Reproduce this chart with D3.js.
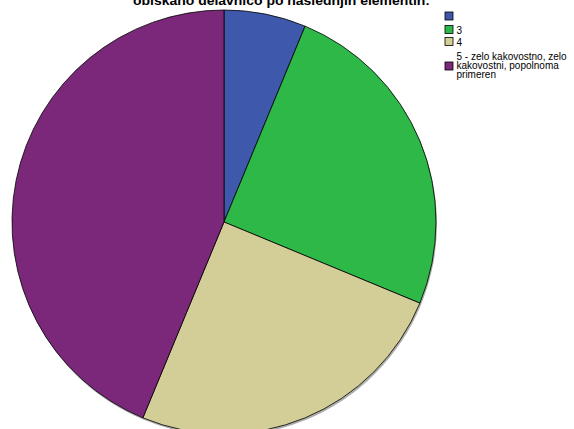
<!DOCTYPE html>
<html><head><meta charset="utf-8">
<script src="https://cdn.jsdelivr.net/npm/d3@7"></script>
<style>body{margin:0;background:#fff}svg{display:block}</style>
</head><body>
<script>
const categories = ["", "3", "4", "5 - zelo kakovostno, zelo kakovostni, popolnoma primeren"];
const legendLines = [[""], ["3"], ["4"], ["5 - zelo kakovostno, zelo", "kakovostni, popolnoma", "primeren"]];
const values = [1, 4, 4, 7];
const colors = ["#3E58AC", "#2EB848", "#D3CE97", "#7B287B"];
const title = "obiskano delavnico po naslednjih elementih:";

const W = 574, H = 429;
const svg = d3.select("body").append("svg").attr("width", W).attr("height", H);

const cx = 224, cy = 222, r = 212;
const pie = d3.pie().sort(null).value(d => d)(values);
const arc = d3.arc().innerRadius(0).outerRadius(r);

const g = svg.append("g").attr("transform", `translate(${cx},${cy})`);
g.append("circle").attr("cx", 1).attr("cy", 2).attr("r", r).attr("fill", "#777").attr("opacity", 0.6);
g.selectAll("path").data(pie).join("path")
  .attr("d", arc)
  .attr("fill", (d, i) => colors[i])
  .attr("stroke", "#000")
  .attr("stroke-width", 0.8);

svg.append("text").attr("x", 281.5).attr("y", 5)
  .attr("text-anchor", "middle")
  .attr("font-family", "Liberation Sans, Arial, sans-serif")
  .attr("font-weight", "bold").attr("font-size", 13)
  .attr("textLength", 297).attr("lengthAdjust", "spacingAndGlyphs")
  .text(title);

const leg = svg.append("g").attr("font-family", "Liberation Sans, Arial, sans-serif").attr("font-size", 10);
const sqY = [12, 25.5, 37.5, 62];
const lineY = [[21], [34], [46], [60, 69.3, 78.3]];
categories.forEach((c, i) => {
  leg.append("rect").attr("x", 445).attr("y", sqY[i]).attr("width", 8).attr("height", 8)
    .attr("fill", colors[i]).attr("stroke", "#000").attr("stroke-width", 0.8);
  legendLines[i].forEach((t, j) => {
    leg.append("text").attr("x", 456.5).attr("y", lineY[i][j]).attr("fill", "#000").text(t);
  });
});
</script>
</body></html>
